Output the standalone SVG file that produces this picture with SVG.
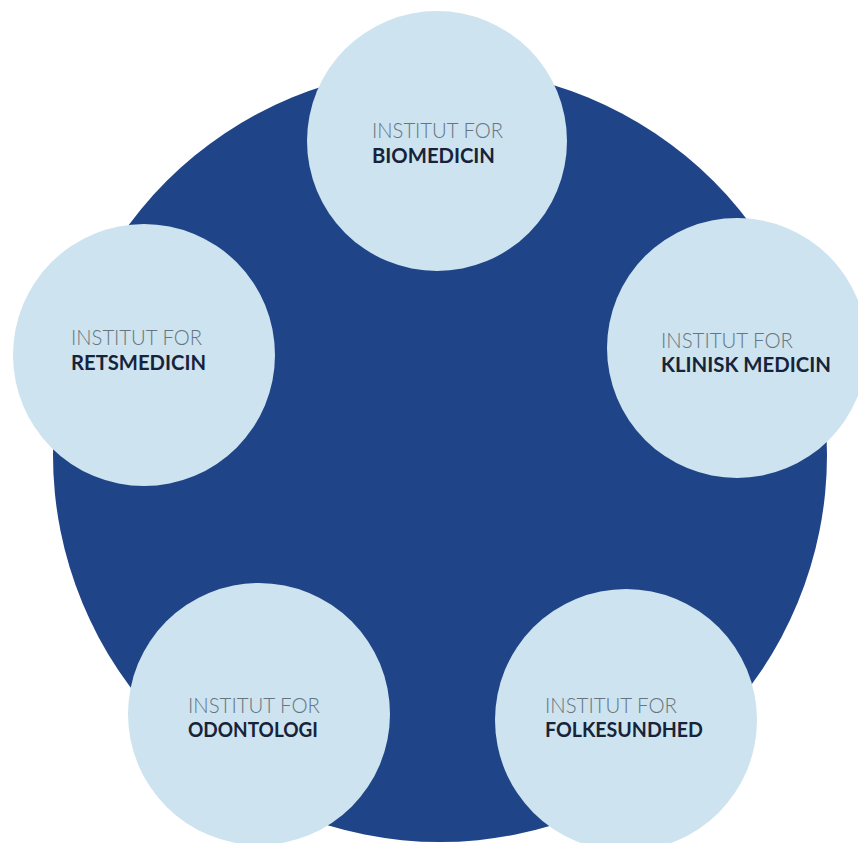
<svg xmlns="http://www.w3.org/2000/svg" width="858" height="843" viewBox="0 0 858 843">
<style>
.bg{fill:#ffffff}
.hub{fill:#1f4487}
.node{fill:#cde3ef}
.l1{font-family:Lato,"Liberation Sans",sans-serif;font-weight:300;font-size:22px;fill:#66757f}
.l2{font-family:Lato,"Liberation Sans",sans-serif;font-weight:700;font-size:21px;fill:#17233a}
</style>
<rect class="bg" width="858" height="843"/>
<circle id="hub" class="hub" cx="440" cy="455" r="387"/>
<g id="connectors"></g>
<g id="biomedicin">
<circle class="node" cx="437" cy="141" r="130"/>
<text class="l1" x="372" y="138" textLength="131" lengthAdjust="spacingAndGlyphs">INSTITUT FOR</text>
<text class="l2" x="372" y="163" textLength="123" lengthAdjust="spacingAndGlyphs">BIOMEDICIN</text>
</g>
<g id="retsmedicin">
<circle class="node" cx="144" cy="355" r="131"/>
<text class="l1" x="71" y="345" textLength="131" lengthAdjust="spacingAndGlyphs">INSTITUT FOR</text>
<text class="l2" x="71" y="370" textLength="135" lengthAdjust="spacingAndGlyphs">RETSMEDICIN</text>
</g>
<g id="klinisk-medicin">
<circle class="node" cx="737" cy="348" r="130"/>
<text class="l1" x="661" y="348" textLength="132" lengthAdjust="spacingAndGlyphs">INSTITUT FOR</text>
<text class="l2" x="661" y="372" textLength="170" lengthAdjust="spacingAndGlyphs">KLINISK MEDICIN</text>
</g>
<g id="odontologi">
<circle class="node" cx="259" cy="714" r="131"/>
<text class="l1" x="188" y="713" textLength="132" lengthAdjust="spacingAndGlyphs">INSTITUT FOR</text>
<text class="l2" x="188" y="737" textLength="130" lengthAdjust="spacingAndGlyphs">ODONTOLOGI</text>
</g>
<g id="folkesundhed">
<circle class="node" cx="626" cy="720" r="131"/>
<text class="l1" x="545" y="713" textLength="132" lengthAdjust="spacingAndGlyphs">INSTITUT FOR</text>
<text class="l2" x="545" y="737" textLength="158" lengthAdjust="spacingAndGlyphs">FOLKESUNDHED</text>
</g>
</svg>
